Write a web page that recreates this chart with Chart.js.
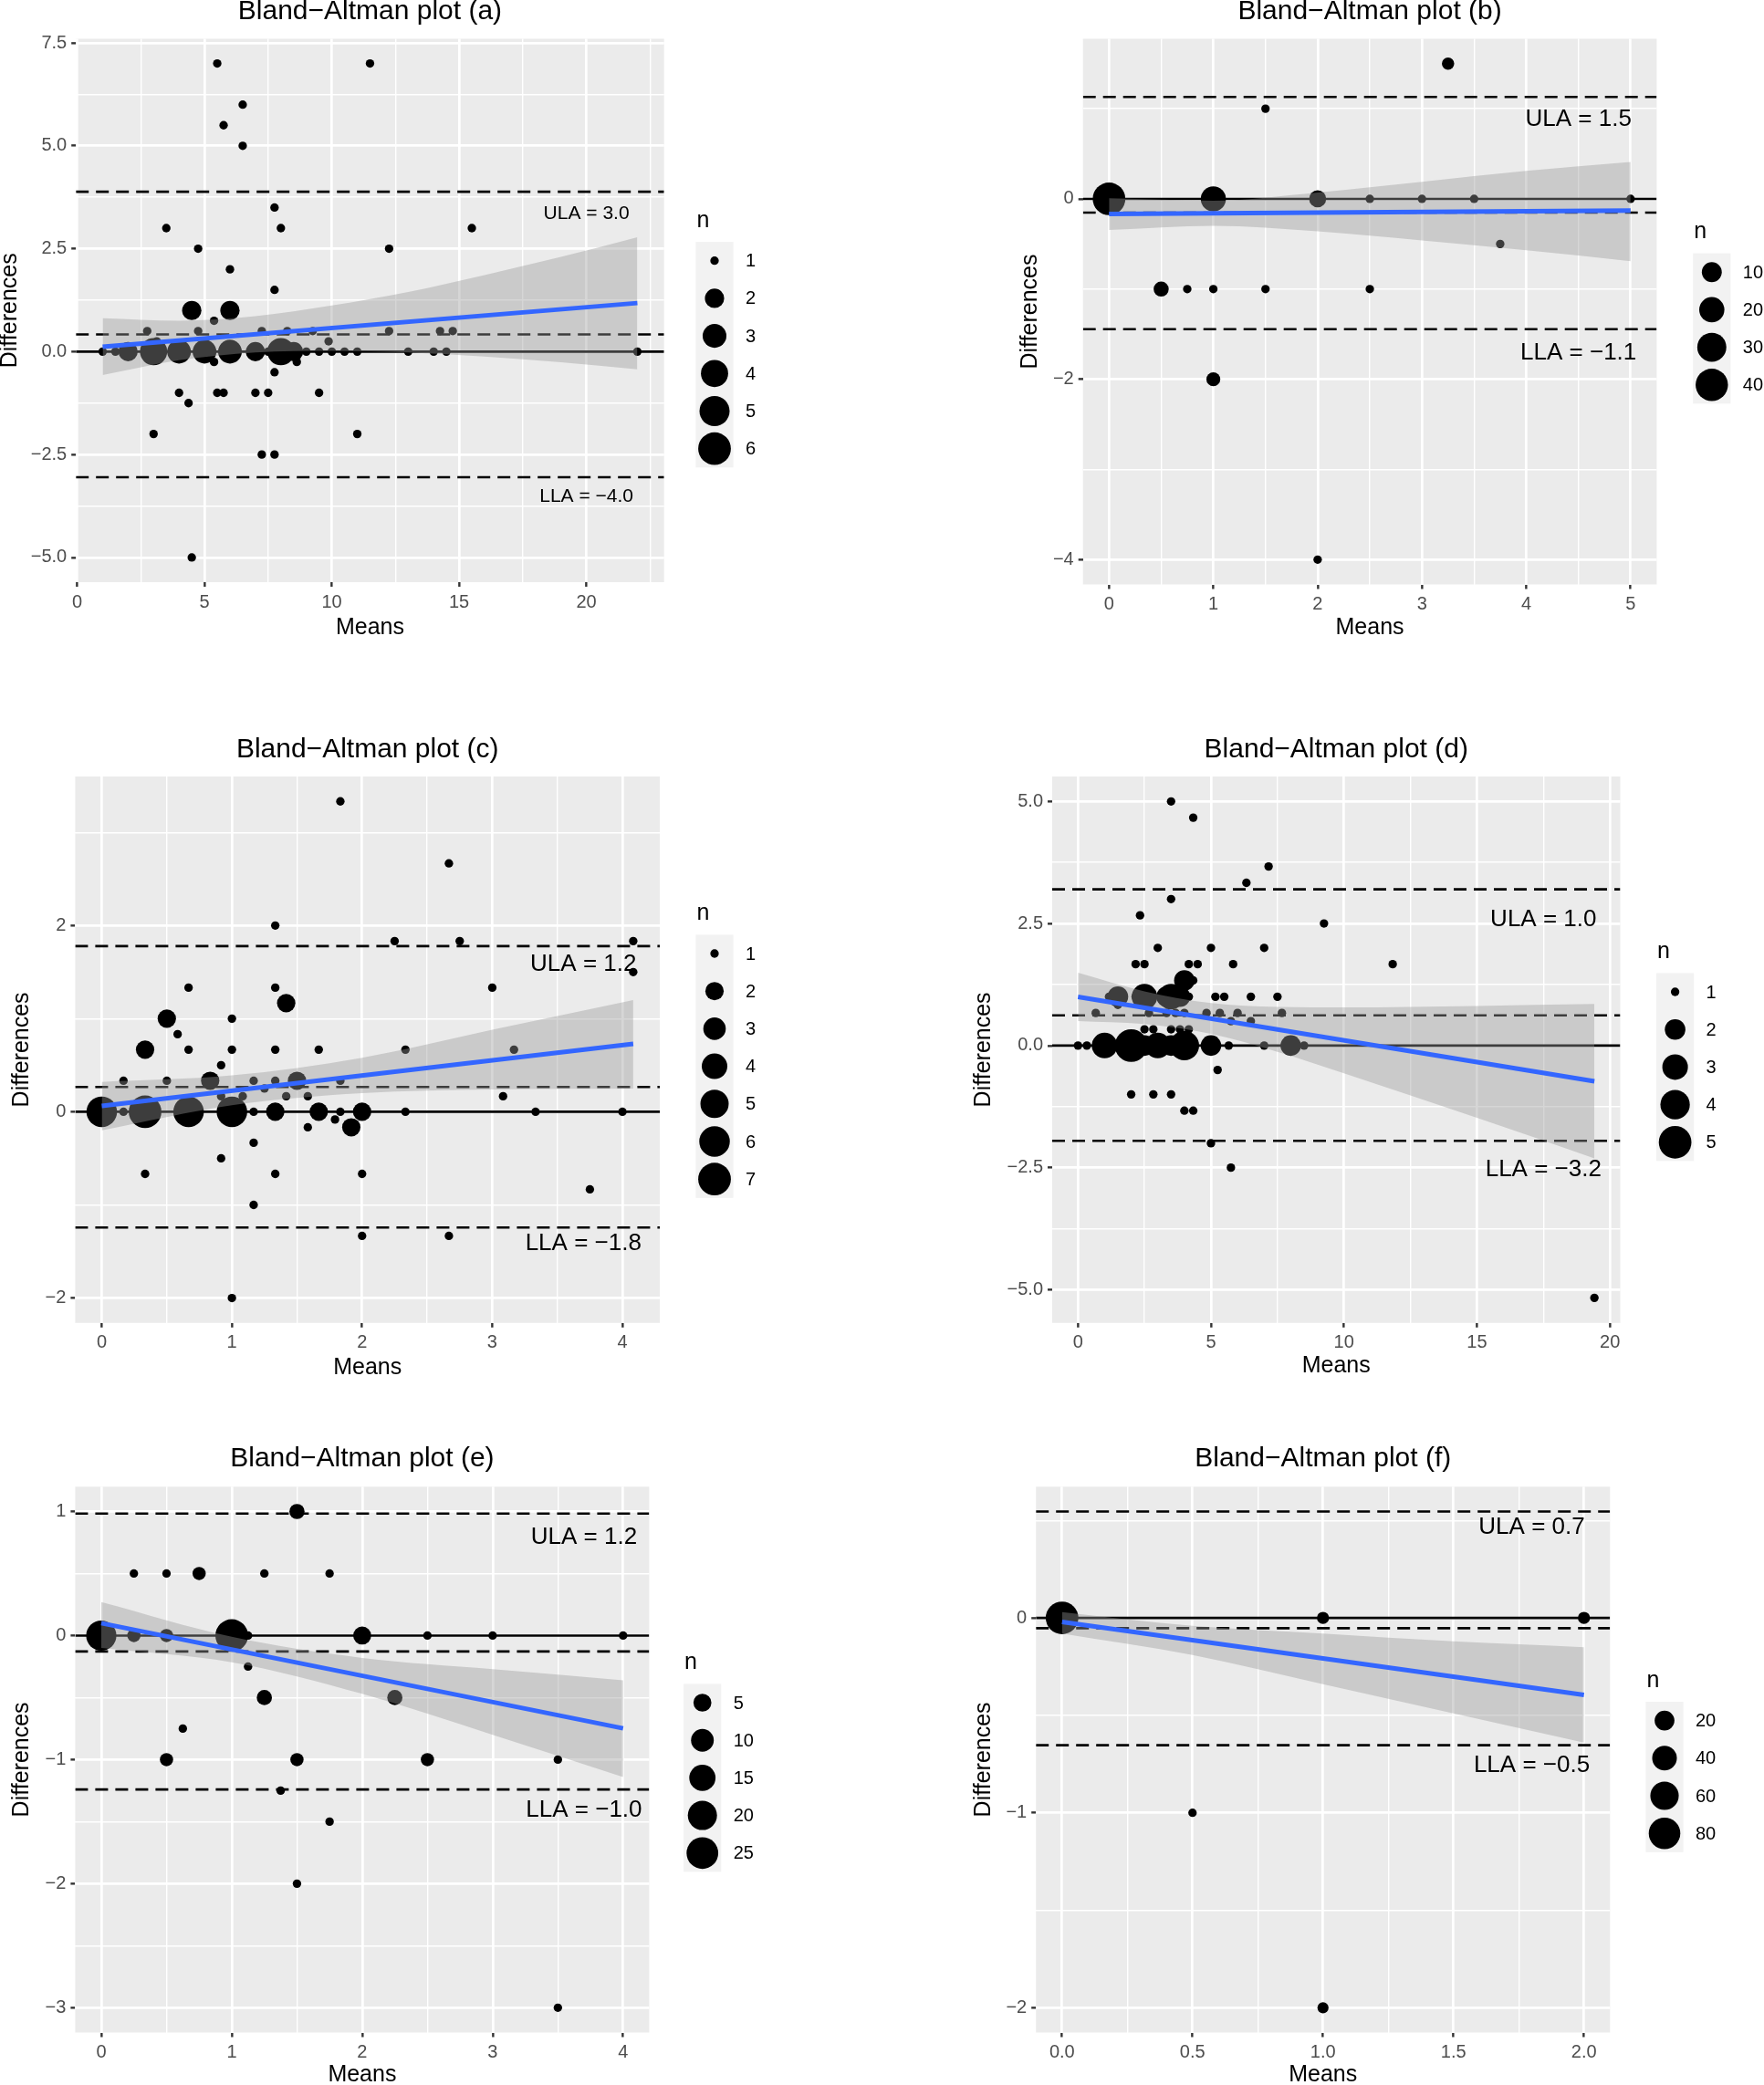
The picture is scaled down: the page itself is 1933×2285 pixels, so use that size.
<!DOCTYPE html>
<html>
<head>
<meta charset="utf-8">
<title>Bland-Altman plots</title>
<script src="https://cdn.jsdelivr.net/npm/chart.js@4.4.1/dist/chart.umd.min.js"></script>
<style>
  html, body { margin: 0; padding: 0; background: #ffffff; }
  body { position: relative; width: 1933px; height: 2285px; overflow: hidden; }
  canvas { position: absolute; }
</style>
</head>
<body>
<script>
// ---------------- data ----------------
// each panel: means (x), differences (y), n (point size)

// panel (a)
const meansA = [5.5, 11.5, 6.5, 5.75, 6.5, 7.75, 3.5, 8, 15.5, 4.75, 12.25, 6, 7.75, 4.5, 6, 5.375,
  2.75, 4.75, 7.25, 8.25, 9.25, 12.25, 14.25, 14.75, 9.875, 3.125,
  1, 1.5, 2, 3, 4, 5, 6, 7, 7.5, 8, 8.5, 9, 9.5, 10, 10.5, 11, 13, 14, 14.5, 22,
  5.375, 8.625, 7.75, 4, 5.5, 5.75, 7, 7.5, 9.5, 4.375, 3, 11, 7.25, 7.75, 4.5];
const diffsA = [7, 7, 6, 5.5, 5, 3.5, 3, 3, 3, 2.5, 2.5, 2, 1.5, 1, 1, 0.75,
  0.5, 0.5, 0.5, 0.5, 0.5, 0.5, 0.5, 0.5, 0.25, 0.25,
  0, 0, 0, 0, 0, 0, 0, 0, 0, 0, 0, 0, 0, 0, 0, 0, 0, 0, 0, 0,
  -0.25, -0.25, -0.5, -1, -1, -1, -1, -1, -1, -1.25, -2, -2, -2.5, -2.5, -5];
const countsA = [1, 1, 1, 1, 1, 1, 1, 1, 1, 1, 1, 1, 1, 2, 2, 1,
  1, 1, 1, 1, 1, 1, 1, 1, 1, 1,
  1, 1, 2, 4, 3, 3, 3, 2, 1, 4, 2, 1, 1, 1, 1, 1, 1, 1, 1, 1,
  1, 1, 1, 1, 1, 1, 1, 1, 1, 1, 1, 1, 1, 1, 1];
const hlinesA = [0, 3.885, 0.417, -3.05];
const fitXA = [1, 22], fitYA = [0.118, 1.18];
const bandXA = [1, 4, 7, 10, 13, 16, 19, 22];
const bandHiA = [0.81, 0.75, 0.86, 1.12, 1.45, 1.86, 2.3, 2.78];
const bandLoA = [-0.57, -0.21, -0.02, 0.02, -0.02, -0.12, -0.26, -0.43];
const notesA = ['ULA = 3.0', 'LLA = \u22124.0'], notesXA = [20, 20], notesYA = [3.34, -3.52];
const breaksA = [1, 2, 3, 4, 5, 6], nRangeA = [1, 6];
const xTicksA = [0, 5, 10, 15, 20], yTicksA = [-5, -2.5, 0, 2.5, 5, 7.5];
const xRangeA = [-0.05, 23.05], yRangeA = [-5.6, 7.6];

// panel (b)
const meansB = [3.25, 1.5, 0, 1, 2, 2.5, 3, 3.5, 5, 3.75, 0.5, 0.75, 1, 1.5, 2.5, 1, 2];
const diffsB = [1.5, 1, 0, 0, 0, 0, 0, 0, 0, -0.5, -1, -1, -1, -1, -1, -2, -4];
const countsB = [2, 1, 41, 20, 6, 1, 1, 1, 1, 1, 4, 1, 1, 1, 1, 3, 1];
const hlinesB = [0, 1.13, -0.153, -1.445];
const fitXB = [0, 5], fitYB = [-0.167, -0.13];
const bandXB = [0, 1, 2, 3, 4, 5];
const bandHiB = [0.006, -0.02, 0.07, 0.19, 0.31, 0.41];
const bandLoB = [-0.345, -0.3, -0.36, -0.46, -0.57, -0.69];
const notesB = ['ULA = 1.5', 'LLA = \u22121.1'], notesXB = [4.5, 4.5], notesYB = [0.886, -1.707];
const breaksB = [10, 20, 30, 40], nRangeB = [1, 41];
const xTicksB = [0, 1, 2, 3, 4, 5], yTicksB = [-4, -2, 0];
const xRangeB = [-0.25, 5.25], yRangeB = [-4.275, 1.775];

// panel (c)
const meansC = [1.833, 2.667, 1.333, 2.25, 2.75, 4.083, 4.083, 0.667, 1.333, 3, 1.417, 0.5, 1, 0.583,
  0.333, 0.667, 1, 1.333, 1.667, 2.333, 3.167, 0.917,
  0.167, 0.5, 0.833, 1.167, 1.333, 1.5, 1.833, 1.25, 0.917, 1.083, 1.417, 1.583, 3.083,
  0, 0.167, 0.333, 0.667, 1, 1.167, 1.333, 1.667, 1.833, 2, 2.333, 3.333, 4,
  1.792, 1.583, 1.917, 1.167, 0.917, 0.333, 1.333, 2, 3.75, 1.167, 2, 2.667, 1];
const diffsC = [3.333, 2.667, 2, 1.833, 1.833, 1.833, 1.5, 1.333, 1.333, 1.333, 1.167, 1, 1, 0.833,
  0.667, 0.667, 0.667, 0.667, 0.667, 0.667, 0.667, 0.5,
  0.333, 0.333, 0.333, 0.333, 0.333, 0.333, 0.333, 0.25, 0.167, 0.167, 0.167, 0.167, 0.167,
  0, 0, 0, 0, 0, 0, 0, 0, 0, 0, 0, 0, 0,
  -0.083, -0.167, -0.167, -0.333, -0.5, -0.667, -0.667, -0.667, -0.833, -1, -1.333, -1.333, -2];
const countsC = [1, 1, 1, 1, 1, 1, 1, 1, 1, 1, 2, 2, 1, 1,
  2, 1, 1, 1, 1, 1, 1, 1,
  1, 1, 2, 1, 1, 2, 1, 1, 1, 1, 1, 1, 1,
  6, 1, 7, 6, 6, 1, 2, 2, 1, 2, 1, 1, 1,
  1, 1, 2, 1, 1, 1, 1, 1, 1, 1, 1, 1, 1];
const hlinesC = [0, 1.779, 0.266, -1.243];
const fitXC = [0, 4.083], fitYC = [0.063, 0.73];
const bandXC = [0, 1, 2, 3, 4.083];
const bandHiC = [0.32, 0.39, 0.58, 0.88, 1.2];
const bandLoC = [-0.2, 0.07, 0.2, 0.24, 0.25];
const notesC = ['ULA = 1.2', 'LLA = \u22121.8'], notesXC = [3.7, 3.7], notesYC = [1.586, -1.41];
const breaksC = [1, 2, 3, 4, 5, 6, 7], nRangeC = [1, 7];
const xTicksC = [0, 1, 2, 3, 4], yTicksC = [-2, 0, 2];
const xRangeC = [-0.204, 4.287], yRangeC = [-2.267, 3.6];

// panel (d)
const meansD = [3.5, 4.333, 7.167, 6.333, 3.5, 2.333, 9.25, 3, 5, 7,
  2.167, 2.5, 4.167, 4.5, 5.833, 11.833, 4, 4.333,
  1.167, 1.5, 2.167, 2.5, 3.333, 3.5, 3.833, 4.167, 5.167, 5.5, 6.5, 7.5, 1.5,
  0.667, 2.667, 3.333, 3.667, 4, 4.833, 5.333, 6, 7.667, 5.75, 6.5,
  2.5, 2.833, 3.5, 3.833, 4.167,
  0, 0.333, 1, 2, 2.5, 3, 3.5, 4, 5, 5.667, 7, 8, 8.5,
  5.25, 2, 2.833, 3.5, 4, 4.333, 5, 5.75, 19.417];
const diffsD = [5, 4.667, 3.667, 3.333, 3, 2.667, 2.5, 2, 2, 2,
  1.667, 1.667, 1.667, 1.667, 1.667, 1.667, 1.333, 1.333,
  1, 1, 1, 1, 1, 1, 1, 1, 1, 1, 1, 1, 0.833,
  0.667, 0.667, 0.667, 0.667, 0.667, 0.667, 0.667, 0.667, 0.667, 0.5, 0.5,
  0.333, 0.333, 0.333, 0.333, 0.333,
  0, 0, 0, 0, 0, 0, 0, 0, 0, 0, 0, 0, 0,
  -0.5, -1, -1, -1, -1.333, -1.333, -2, -2.5, -5.167];
const countsD = [1, 1, 1, 1, 1, 1, 1, 1, 1, 1,
  1, 1, 1, 1, 1, 1, 2, 1,
  1, 2, 1, 3, 2, 3, 2, 1, 1, 1, 1, 1, 1,
  1, 1, 1, 1, 1, 1, 1, 1, 1, 1, 1,
  1, 1, 1, 1, 1,
  1, 1, 3, 5, 2, 3, 2, 4, 2, 1, 1, 2, 1,
  1, 1, 1, 1, 1, 1, 1, 1, 1];
const hlinesD = [0, 3.2, 0.618, -1.95];
const fitXD = [0, 19.417], fitYD = [0.997, -0.73];
const bandXD = [0, 2.5, 5, 7.5, 10, 15, 19.417];
const bandHiD = [1.49, 1.11, 0.87, 0.79, 0.78, 0.81, 0.85];
const bandLoD = [0.5, 0.44, 0.24, -0.13, -0.57, -1.48, -2.31];
const notesD = ['ULA = 1.0', 'LLA = \u22123.2'], notesXD = [17.5, 17.5], notesYD = [2.57, -2.54];
const breaksD = [1, 2, 3, 4, 5], nRangeD = [1, 5];
const xTicksD = [0, 5, 10, 15, 20], yTicksD = [-5, -2.5, 0, 2.5, 5];
const xRangeD = [-0.97, 20.39], yRangeD = [-5.68, 5.51];

// panel (e)
const meansE = [1.5, 0.25, 0.5, 0.75, 1.25, 1.75,
  0, 0.25, 0.5, 1, 1.125, 2, 2.5, 3, 4,
  1.125, 1.25, 2.25, 0.625, 0.5, 1.5, 2.5, 3.5, 1.375, 1.75, 1.5, 3.5];
const diffsE = [1, 0.5, 0.5, 0.5, 0.5, 0.5,
  0, 0, 0, 0, 0, 0, 0, 0, 0,
  -0.25, -0.5, -0.5, -0.75, -1, -1, -1, -1, -1.25, -1.5, -2, -3];
const countsE = [3, 1, 1, 2, 1, 1,
  22, 2, 2, 27, 1, 5, 1, 1, 1,
  1, 3, 3, 1, 2, 2, 2, 1, 1, 1, 1, 1];
const hlinesE = [0, 0.983, -0.128, -1.241];
const fitXE = [0, 4], fitYE = [0.1, -0.748];
const bandXE = [0, 1, 2, 3, 4];
const bandHiE = [0.27, -0.01, -0.18, -0.27, -0.36];
const bandLoE = [-0.1, -0.215, -0.47, -0.8, -1.14];
const notesE = ['ULA = 1.2', 'LLA = \u22121.0'], notesXE = [3.7, 3.7], notesYE = [0.79, -1.406];
const breaksE = [5, 10, 15, 20, 25], nRangeE = [1, 27];
const xTicksE = [0, 1, 2, 3, 4], yTicksE = [-3, -2, -1, 0, 1];
const xRangeE = [-0.2, 4.2], yRangeE = [-3.2, 1.2];

// panel (f)
const meansF = [0, 1, 2, 0.5, 1];
const diffsF = [0, 0, 0, -1, -2];
const countsF = [88, 3, 3, 1, 2];
const hlinesF = [0, 0.546, -0.053, -0.653];
const fitXF = [0, 2], fitYF = [-0.021, -0.395];
const bandXF = [0, 0.5, 1, 1.5, 2];
const bandHiF = [0.03, -0.04, -0.08, -0.12, -0.15];
const bandLoF = [-0.08, -0.19, -0.34, -0.49, -0.64];
const notesF = ['ULA = 0.7', 'LLA = \u22120.5'], notesXF = [1.8, 1.8], notesYF = [0.463, -0.758];
const breaksF = [20, 40, 60, 80], nRangeF = [1, 88];
const xTicksF = [0, 0.5, 1, 1.5, 2], yTicksF = [-2, -1, 0];
const xRangeF = [-0.1, 2.1], yRangeF = [-2.127, 0.673];

// ---------------- look ----------------
const FONT = "'Liberation Sans', Arial, Helvetica, sans-serif";
const TITLE_PX = 30, AXIS_PX = 25, TICK_PX = 20, KEY_PX = 20;
const PANEL_BG = '#EBEBEB', KEY_BG = '#F2F2F2';
const RIBBON = 'rgba(153,153,153,0.4)', FIT_BLUE = '#3366FF';
const KEY_STEP = 41.2;

Chart.defaults.font.family = FONT;

// ggplot-like area scale: n -> point radius in px
function radiusFor(n, range) {
  const t = Math.max(0, (n - range[0]) / (range[1] - range[0]));
  const size = 1 + 5 * Math.sqrt(t);
  return 2.0 + 2.65 * size;
}

function fmt(v, dec) {
  return v.toFixed(dec).replace('-', '\u2212');
}

// major breaks plus the minor ones half-way between (kept inside the range)
function tickList(majors, range) {
  const half = (majors[1] - majors[0]) / 2;
  const out = [];
  for (let k = -1; k <= (majors.length - 1) * 2 + 1; k++) {
    const v = +(majors[0] + k * half).toFixed(6);
    if (v >= range[0] && v <= range[1]) out.push(v);
  }
  return out;
}

// grey panel behind the grid
const panelBg = {
  id: 'panelBg',
  beforeDraw(chart) {
    const { ctx, chartArea: a } = chart;
    ctx.save();
    ctx.fillStyle = PANEL_BG;
    ctx.fillRect(a.left, a.top, a.right - a.left, a.bottom - a.top);
    ctx.restore();
  }
};

// ULA / LLA text placed in data units
const notes = {
  id: 'notes',
  afterDatasetsDraw(chart, args, o) {
    const { ctx, scales } = chart;
    ctx.save();
    ctx.fillStyle = '#000';
    ctx.font = o.size + 'px ' + FONT;
    ctx.textAlign = 'center';
    ctx.textBaseline = 'middle';
    o.text.forEach((t, i) => {
      ctx.fillText(t, scales.x.getPixelForValue(o.x[i]), scales.y.getPixelForValue(o.y[i]));
    });
    ctx.restore();
  }
};

// size legend "n"
const sizeKey = {
  id: 'sizeKey',
  afterDraw(chart, args, o) {
    const ctx = chart.ctx;
    const half = KEY_STEP / 2;
    ctx.save();
    ctx.fillStyle = KEY_BG;
    ctx.fillRect(o.kx - half, o.ky - half, KEY_STEP, KEY_STEP * o.breaks.length);
    ctx.fillStyle = '#000';
    ctx.font = '25px ' + FONT;
    ctx.textAlign = 'left';
    ctx.textBaseline = 'middle';
    ctx.fillText('n', o.kx - half + 1, o.ky - 43.7);
    ctx.font = KEY_PX + 'px ' + FONT;
    o.breaks.forEach((b, i) => {
      const cy = o.ky + i * KEY_STEP;
      ctx.beginPath();
      ctx.arc(o.kx, cy, radiusFor(b, o.range), 0, Math.PI * 2);
      ctx.fill();
      ctx.fillText(String(b), o.kx + 34, cy + 1);
    });
    ctx.restore();
  }
};

const panels = [
  { title: 'Bland\u2212Altman plot (a)', mean: meansA, diff: diffsA, count: countsA, hlines: hlinesA,
    fitX: fitXA, fitY: fitYA, bandX: bandXA, bandHi: bandHiA, bandLo: bandLoA,
    notes: notesA, notesX: notesXA, notesY: notesYA, breaks: breaksA, nRange: nRangeA,
    xTicks: xTicksA, yTicks: yTicksA, xRange: xRangeA, yRange: yRangeA, xDec: 0, yDec: 1,
    geo: { L: 83.2, T: 42.5, R: 727.7, B: 638, titleY: 13, yTitleX: 10.5, xTitleY: 688, right: 900,
           kx: 783, ky: 285.7, noteSize: 21 } },
  { title: 'Bland\u2212Altman plot (b)', mean: meansB, diff: diffsB, count: countsB, hlines: hlinesB,
    fitX: fitXB, fitY: fitYB, bandX: bandXB, bandHi: bandHiB, bandLo: bandLoB,
    notes: notesB, notesX: notesXB, notesY: notesYB, breaks: breaksB, nRange: nRangeB,
    xTicks: xTicksB, yTicks: yTicksB, xRange: xRangeB, yRange: yRangeB, xDec: 0, yDec: 0,
    geo: { L: 1186.7, T: 42.5, R: 1815.4, B: 640.5, titleY: 13, yTitleX: 1129, xTitleY: 688, right: 1933,
           kx: 1875.8, ky: 298.2, noteSize: 26 } },
  { title: 'Bland\u2212Altman plot (c)', mean: meansC, diff: diffsC, count: countsC, hlines: hlinesC,
    fitX: fitXC, fitY: fitYC, bandX: bandXC, bandHi: bandHiC, bandLo: bandLoC,
    notes: notesC, notesX: notesXC, notesY: notesYC, breaks: breaksC, nRange: nRangeC,
    xTicks: xTicksC, yTicks: yTicksC, xRange: xRangeC, yRange: yRangeC, xDec: 0, yDec: 0,
    geo: { L: 82.4, T: 851, R: 723, B: 1449.8, titleY: 822, yTitleX: 24.4, xTitleY: 1498.6, right: 900,
           kx: 783, ky: 1045, noteSize: 26 } },
  { title: 'Bland\u2212Altman plot (d)', mean: meansD, diff: diffsD, count: countsD, hlines: hlinesD,
    fitX: fitXD, fitY: fitYD, bandX: bandXD, bandHi: bandHiD, bandLo: bandLoD,
    notes: notesD, notesX: notesXD, notesY: notesYD, breaks: breaksD, nRange: nRangeD,
    xTicks: xTicksD, yTicks: yTicksD, xRange: xRangeD, yRange: yRangeD, xDec: 0, yDec: 1,
    geo: { L: 1153, T: 851, R: 1775.5, B: 1449.8, titleY: 822, yTitleX: 1078, xTitleY: 1497, right: 1933,
           kx: 1835.6, ky: 1087, noteSize: 26 } },
  { title: 'Bland\u2212Altman plot (e)', mean: meansE, diff: diffsE, count: countsE, hlines: hlinesE,
    fitX: fitXE, fitY: fitYE, bandX: bandXE, bandHi: bandHiE, bandLo: bandLoE,
    notes: notesE, notesX: notesXE, notesY: notesYE, breaks: breaksE, nRange: nRangeE,
    xTicks: xTicksE, yTicks: yTicksE, xRange: xRangeE, yRange: yRangeE, xDec: 0, yDec: 0,
    geo: { L: 82.4, T: 1629.3, R: 711.4, B: 2227.5, titleY: 1599, yTitleX: 24.4, xTitleY: 2274, right: 900,
           kx: 769.7, ky: 1866, noteSize: 26 } },
  { title: 'Bland\u2212Altman plot (f)', mean: meansF, diff: diffsF, count: countsF, hlines: hlinesF,
    fitX: fitXF, fitY: fitYF, bandX: bandXF, bandHi: bandHiF, bandLo: bandLoF,
    notes: notesF, notesX: notesXF, notesY: notesYF, breaks: breaksF, nRange: nRangeF,
    xTicks: xTicksF, yTicks: yTicksF, xRange: xRangeF, yRange: yRangeF, xDec: 1, yDec: 0,
    geo: { L: 1135.2, T: 1629.3, R: 1764.3, B: 2227.5, titleY: 1599, yTitleX: 1078, xTitleY: 2274, right: 1933,
           kx: 1824, ky: 1885.6, noteSize: 26 } }
];

function axisOptions(majors, range, dec, label, fixSize) {
  const majorSet = new Set(majors);
  const all = tickList(majors, range);
  const isMajor = c => c.tick && majorSet.has(c.tick.value);
  return {
    type: 'linear',
    min: range[0],
    max: range[1],
    afterBuildTicks: s => { s.ticks = all.map(v => ({ value: v })); },
    afterFit: fixSize,
    border: { display: false },
    grid: {
      color: '#FFFFFF',
      lineWidth: c => isMajor(c) ? 2.7 : 1.4,
      drawTicks: true,
      tickLength: 5,
      tickColor: c => isMajor(c) ? '#333333' : 'rgba(0,0,0,0)',
      tickWidth: c => isMajor(c) ? 2.4 : 0
    },
    ticks: {
      autoSkip: false,
      maxRotation: 0,
      padding: 5,
      color: '#4D4D4D',
      font: { size: TICK_PX },
      callback: v => majorSet.has(v) ? fmt(v, dec) : ''
    },
    title: {
      display: true,
      text: label,
      color: '#000000',
      font: { size: AXIS_PX },
      padding: 0
    }
  };
}

function buildPanel(p) {
  const g = p.geo;
  const titleLH = TITLE_PX * 1.2, axisLH = AXIS_PX * 1.2;
  const cl = Math.round(g.yTitleX - axisLH / 2);
  const ct = Math.round(g.titleY - titleLH / 2);
  const cb = Math.round(g.xTitleY + axisLH / 2);
  const cw = g.right - cl, ch = cb - ct;

  const canvas = document.createElement('canvas');
  canvas.width = cw;
  canvas.height = ch;
  canvas.style.left = cl + 'px';
  canvas.style.top = ct + 'px';
  canvas.style.width = cw + 'px';
  canvas.style.height = ch + 'px';
  document.body.appendChild(canvas);

  const yAxisW = g.L - cl;
  const xAxisH = cb - g.B;
  const padRight = g.right - g.R;
  const titlePadBottom = g.T - ct - titleLH;

  const points = p.mean.map((x, i) => ({ x: x, y: p.diff[i] }));
  const upper = p.bandX.map((x, i) => ({ x: x, y: p.bandHi[i] }));
  const lower = p.bandX.map((x, i) => ({ x: x, y: p.bandLo[i] }));
  const fit = p.fitX.map((x, i) => ({ x: x, y: p.fitY[i] }));

  const refLines = p.hlines.map((v, i) => ({
    type: 'line',
    data: [{ x: p.xRange[0], y: v }, { x: p.xRange[1], y: v }],
    borderColor: '#000000',
    borderWidth: 2.6,
    borderDash: i === 0 ? [] : [14, 8],
    pointRadius: 0,
    showLine: true,
    fill: false,
    order: 3
  }));

  new Chart(canvas, {
    type: 'scatter',
    data: {
      datasets: [
        { type: 'line', data: upper, showLine: true, borderColor: 'rgba(0,0,0,0)', borderWidth: 0,
          pointRadius: 0, fill: '+1', backgroundColor: RIBBON, cubicInterpolationMode: 'monotone', order: 2 },
        { type: 'line', data: lower, showLine: true, borderColor: 'rgba(0,0,0,0)', borderWidth: 0,
          pointRadius: 0, fill: false, cubicInterpolationMode: 'monotone', order: 2 },
        { type: 'line', data: fit, showLine: true, borderColor: FIT_BLUE, borderWidth: 5,
          pointRadius: 0, fill: false, order: 1 },
        ...refLines,
        { type: 'scatter', data: points, backgroundColor: '#000000', borderWidth: 0,
          pointRadius: c => radiusFor(p.count[c.dataIndex], p.nRange), order: 4 }
      ]
    },
    options: {
      responsive: false,
      devicePixelRatio: 1,
      animation: false,
      events: [],
      layout: { padding: { left: 0, top: 0, right: padRight, bottom: 0 } },
      scales: {
        x: axisOptions(p.xTicks, p.xRange, p.xDec, 'Means', s => { s.height = xAxisH; }),
        y: axisOptions(p.yTicks, p.yRange, p.yDec, 'Differences', s => { s.width = yAxisW; })
      },
      plugins: {
        legend: { display: false },
        tooltip: { enabled: false },
        title: {
          display: true,
          text: p.title,
          color: '#000000',
          fullSize: false,
          font: { size: TITLE_PX, weight: 'normal' },
          padding: { top: 0, bottom: titlePadBottom }
        },
        notes: { text: p.notes, x: p.notesX, y: p.notesY, size: g.noteSize },
        sizeKey: { breaks: p.breaks, range: p.nRange, kx: g.kx - cl, ky: g.ky - ct }
      }
    },
    plugins: [panelBg, notes, sizeKey]
  });
}

panels.forEach(buildPanel);
</script>
</body>
</html>
